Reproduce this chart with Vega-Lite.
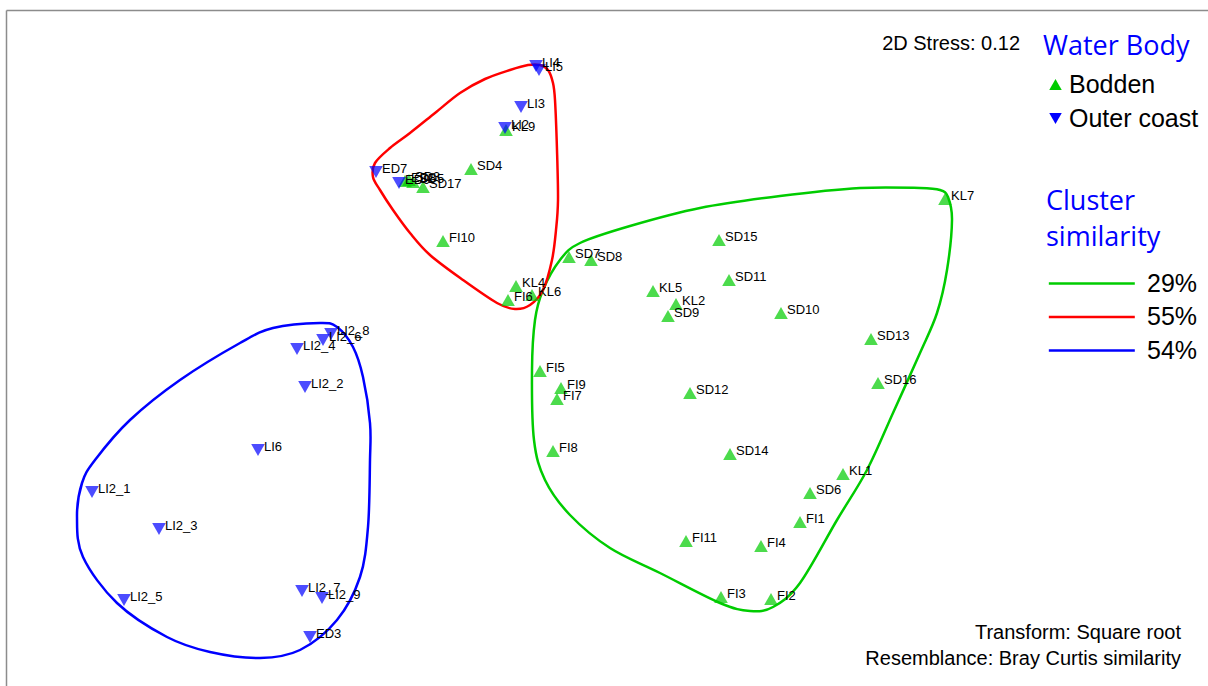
{
  "$schema": "https://vega.github.io/schema/vega-lite/v6.json",
  "width": 1202,
  "height": 676,
  "autosize": {"type": "none"},
  "padding": {"left": 6, "top": 10, "right": 0, "bottom": 0},
  "background": "white",
  "config": {"view": {"stroke": null}},
  "datasets": {
    "points": [
      {"label": "KL9", "water": "Bodden", "x": -0.376, "y": 0.88},
      {"label": "ED8", "water": "Bodden", "x": -0.78, "y": 0.676},
      {"label": "SD3", "water": "Bodden", "x": -0.764, "y": 0.68},
      {"label": "SD5", "water": "Bodden", "x": -0.748, "y": 0.672},
      {"label": "SD17", "water": "Bodden", "x": -0.708, "y": 0.652},
      {"label": "SD4", "water": "Bodden", "x": -0.516, "y": 0.724},
      {"label": "FI10", "water": "Bodden", "x": -0.628, "y": 0.436},
      {"label": "KL4", "water": "Bodden", "x": -0.336, "y": 0.256},
      {"label": "FI6", "water": "Bodden", "x": -0.368, "y": 0.2},
      {"label": "KL6", "water": "Bodden", "x": -0.272, "y": 0.22},
      {"label": "SD7", "water": "Bodden", "x": -0.124, "y": 0.372},
      {"label": "SD8", "water": "Bodden", "x": -0.036, "y": 0.36},
      {"label": "KL5", "water": "Bodden", "x": 0.212, "y": 0.236},
      {"label": "KL2", "water": "Bodden", "x": 0.304, "y": 0.184},
      {"label": "SD9", "water": "Bodden", "x": 0.272, "y": 0.136},
      {"label": "SD15", "water": "Bodden", "x": 0.476, "y": 0.44},
      {"label": "SD11", "water": "Bodden", "x": 0.516, "y": 0.28},
      {"label": "SD10", "water": "Bodden", "x": 0.724, "y": 0.148},
      {"label": "FI5", "water": "Bodden", "x": -0.24, "y": -0.084},
      {"label": "FI9", "water": "Bodden", "x": -0.156, "y": -0.152},
      {"label": "FI7", "water": "Bodden", "x": -0.172, "y": -0.196},
      {"label": "SD12", "water": "Bodden", "x": 0.36, "y": -0.172},
      {"label": "FI8", "water": "Bodden", "x": -0.188, "y": -0.404},
      {"label": "KL7", "water": "Bodden", "x": 1.38, "y": 0.604},
      {"label": "SD13", "water": "Bodden", "x": 1.084, "y": 0.044},
      {"label": "SD16", "water": "Bodden", "x": 1.112, "y": -0.132},
      {"label": "SD14", "water": "Bodden", "x": 0.52, "y": -0.416},
      {"label": "KL1", "water": "Bodden", "x": 0.972, "y": -0.496},
      {"label": "SD6", "water": "Bodden", "x": 0.84, "y": -0.572},
      {"label": "FI1", "water": "Bodden", "x": 0.8, "y": -0.688},
      {"label": "FI4", "water": "Bodden", "x": 0.644, "y": -0.784},
      {"label": "FI11", "water": "Bodden", "x": 0.344, "y": -0.764},
      {"label": "FI3", "water": "Bodden", "x": 0.484, "y": -0.988},
      {"label": "FI2", "water": "Bodden", "x": 0.684, "y": -0.996},
      {"label": "LI4", "water": "Outer coast", "x": -0.256, "y": 1.136},
      {"label": "LI5", "water": "Outer coast", "x": -0.244, "y": 1.12},
      {"label": "LI3", "water": "Outer coast", "x": -0.316, "y": 0.972},
      {"label": "LI2", "water": "Outer coast", "x": -0.38, "y": 0.888},
      {"label": "ED7", "water": "Outer coast", "x": -0.896, "y": 0.712},
      {"label": "ED9", "water": "Outer coast", "x": -0.804, "y": 0.668},
      {"label": "LI2_8", "water": "Outer coast", "x": -1.076, "y": 0.064},
      {"label": "LI2_6", "water": "Outer coast", "x": -1.108, "y": 0.04},
      {"label": "LI2_4", "water": "Outer coast", "x": -1.212, "y": 0.004},
      {"label": "LI2_2", "water": "Outer coast", "x": -1.18, "y": -0.148},
      {"label": "LI6", "water": "Outer coast", "x": -1.368, "y": -0.4},
      {"label": "LI2_1", "water": "Outer coast", "x": -2.032, "y": -0.568},
      {"label": "LI2_3", "water": "Outer coast", "x": -1.764, "y": -0.716},
      {"label": "LI2_5", "water": "Outer coast", "x": -1.904, "y": -1.0},
      {"label": "LI2_7", "water": "Outer coast", "x": -1.192, "y": -0.964},
      {"label": "LI2_9", "water": "Outer coast", "x": -1.112, "y": -0.992},
      {"label": "ED3", "water": "Outer coast", "x": -1.16, "y": -1.148}
    ],
    "hulls": [
      {"cluster": "29%", "i": 0, "x": -0.16, "y": 0.36},
      {"cluster": "29%", "i": 1, "x": -0.08, "y": 0.428},
      {"cluster": "29%", "i": 2, "x": 0.12, "y": 0.496},
      {"cluster": "29%", "i": 3, "x": 0.4, "y": 0.568},
      {"cluster": "29%", "i": 4, "x": 0.72, "y": 0.616},
      {"cluster": "29%", "i": 5, "x": 1.04, "y": 0.648},
      {"cluster": "29%", "i": 6, "x": 1.28, "y": 0.648},
      {"cluster": "29%", "i": 7, "x": 1.36, "y": 0.64},
      {"cluster": "29%", "i": 8, "x": 1.392, "y": 0.612},
      {"cluster": "29%", "i": 9, "x": 1.408, "y": 0.52},
      {"cluster": "29%", "i": 10, "x": 1.388, "y": 0.32},
      {"cluster": "29%", "i": 11, "x": 1.348, "y": 0.148},
      {"cluster": "29%", "i": 12, "x": 1.28, "y": -0.012},
      {"cluster": "29%", "i": 13, "x": 1.172, "y": -0.252},
      {"cluster": "29%", "i": 14, "x": 1.068, "y": -0.48},
      {"cluster": "29%", "i": 15, "x": 0.948, "y": -0.68},
      {"cluster": "29%", "i": 16, "x": 0.8, "y": -0.932},
      {"cluster": "29%", "i": 17, "x": 0.692, "y": -1.028},
      {"cluster": "29%", "i": 18, "x": 0.6, "y": -1.044},
      {"cluster": "29%", "i": 19, "x": 0.48, "y": -1.012},
      {"cluster": "29%", "i": 20, "x": 0.24, "y": -0.892},
      {"cluster": "29%", "i": 21, "x": 0.04, "y": -0.792},
      {"cluster": "29%", "i": 22, "x": -0.12, "y": -0.66},
      {"cluster": "29%", "i": 23, "x": -0.22, "y": -0.52},
      {"cluster": "29%", "i": 24, "x": -0.264, "y": -0.36},
      {"cluster": "29%", "i": 25, "x": -0.272, "y": -0.08},
      {"cluster": "29%", "i": 26, "x": -0.26, "y": 0.12},
      {"cluster": "29%", "i": 27, "x": -0.228, "y": 0.24},
      {"cluster": "55%", "i": 0, "x": -0.288, "y": 1.14},
      {"cluster": "55%", "i": 1, "x": -0.24, "y": 1.14},
      {"cluster": "55%", "i": 2, "x": -0.208, "y": 1.12},
      {"cluster": "55%", "i": 3, "x": -0.188, "y": 1.068},
      {"cluster": "55%", "i": 4, "x": -0.18, "y": 1.0},
      {"cluster": "55%", "i": 5, "x": -0.172, "y": 0.8},
      {"cluster": "55%", "i": 6, "x": -0.168, "y": 0.6},
      {"cluster": "55%", "i": 7, "x": -0.176, "y": 0.48},
      {"cluster": "55%", "i": 8, "x": -0.192, "y": 0.36},
      {"cluster": "55%", "i": 9, "x": -0.228, "y": 0.24},
      {"cluster": "55%", "i": 10, "x": -0.28, "y": 0.18},
      {"cluster": "55%", "i": 11, "x": -0.34, "y": 0.164},
      {"cluster": "55%", "i": 12, "x": -0.412, "y": 0.188},
      {"cluster": "55%", "i": 13, "x": -0.548, "y": 0.28},
      {"cluster": "55%", "i": 14, "x": -0.68, "y": 0.38},
      {"cluster": "55%", "i": 15, "x": -0.76, "y": 0.468},
      {"cluster": "55%", "i": 16, "x": -0.828, "y": 0.56},
      {"cluster": "55%", "i": 17, "x": -0.88, "y": 0.64},
      {"cluster": "55%", "i": 18, "x": -0.908, "y": 0.692},
      {"cluster": "55%", "i": 19, "x": -0.9, "y": 0.748},
      {"cluster": "55%", "i": 20, "x": -0.84, "y": 0.808},
      {"cluster": "55%", "i": 21, "x": -0.76, "y": 0.868},
      {"cluster": "55%", "i": 22, "x": -0.66, "y": 0.948},
      {"cluster": "55%", "i": 23, "x": -0.56, "y": 1.028},
      {"cluster": "55%", "i": 24, "x": -0.46, "y": 1.084},
      {"cluster": "55%", "i": 25, "x": -0.36, "y": 1.12},
      {"cluster": "54%", "i": 0, "x": -1.308, "y": 0.088},
      {"cluster": "54%", "i": 1, "x": -1.12, "y": 0.108},
      {"cluster": "54%", "i": 2, "x": -1.052, "y": 0.092},
      {"cluster": "54%", "i": 3, "x": -0.988, "y": 0.012},
      {"cluster": "54%", "i": 4, "x": -0.948, "y": -0.108},
      {"cluster": "54%", "i": 5, "x": -0.92, "y": -0.292},
      {"cluster": "54%", "i": 6, "x": -0.92, "y": -0.44},
      {"cluster": "54%", "i": 7, "x": -0.928, "y": -0.708},
      {"cluster": "54%", "i": 8, "x": -0.96, "y": -0.908},
      {"cluster": "54%", "i": 9, "x": -1.052, "y": -1.08},
      {"cluster": "54%", "i": 10, "x": -1.2, "y": -1.2},
      {"cluster": "54%", "i": 11, "x": -1.36, "y": -1.232},
      {"cluster": "54%", "i": 12, "x": -1.56, "y": -1.208},
      {"cluster": "54%", "i": 13, "x": -1.732, "y": -1.148},
      {"cluster": "54%", "i": 14, "x": -1.932, "y": -1.012},
      {"cluster": "54%", "i": 15, "x": -2.068, "y": -0.828},
      {"cluster": "54%", "i": 16, "x": -2.092, "y": -0.668},
      {"cluster": "54%", "i": 17, "x": -2.072, "y": -0.532},
      {"cluster": "54%", "i": 18, "x": -2.02, "y": -0.44},
      {"cluster": "54%", "i": 19, "x": -1.88, "y": -0.28},
      {"cluster": "54%", "i": 20, "x": -1.68, "y": -0.12},
      {"cluster": "54%", "i": 21, "x": -1.44, "y": 0.028}
    ],
    "notes": [
      {"text": "2D Stress: 0.12", "x": 1.68, "y": 1.224},
      {"text": "Transform: Square root", "x": 2.324, "y": -1.132},
      {"text": "Resemblance: Bray Curtis similarity", "x": 2.324, "y": -1.236}
    ]
  },
  "encoding": {
    "x": {
      "field": "x",
      "type": "quantitative",
      "scale": {"domain": [-2.376, 2.432], "nice": false, "zero": false},
      "axis": {"orient": "top", "labels": false, "ticks": false, "grid": false, "title": null, "domainColor": "#8c8c8c", "domainWidth": 1.5}
    },
    "y": {
      "field": "y",
      "type": "quantitative",
      "scale": {"domain": [-1.344, 1.36], "nice": false, "zero": false},
      "axis": {"orient": "left", "labels": false, "ticks": false, "grid": false, "title": null, "domainColor": "#8c8c8c", "domainWidth": 1.5}
    }
  },
  "layer": [
    {
      "data": {"name": "hulls"},
      "mark": {"type": "line", "interpolate": "cardinal-closed", "strokeWidth": 2.5},
      "encoding": {
        "stroke": {
          "field": "cluster",
          "type": "nominal",
          "scale": {"domain": ["29%", "55%", "54%"], "range": ["#00cc00", "#ff0000", "#0000ff"]},
          "legend": {
            "title": ["Cluster", "similarity"],
            "orient": "none",
            "legendX": 1040,
            "legendY": 179,
            "padding": 0,
            "titleFont": "Open Sans",
            "titleFontSize": 27,
            "titleFontWeight": "normal",
            "titleColor": "#0000ff",
            "titleLineHeight": 36,
            "titlePadding": 19,
            "labelFont": "Liberation Sans",
            "labelFontSize": 25,
            "labelColor": "#000000",
            "labelOffset": 76,
            "rowPadding": 7.5,
            "symbolType": "M-0.9,0L7.1,0",
            "symbolSize": 462,
            "symbolStrokeWidth": 2.5
          }
        },
        "order": {"field": "i", "type": "quantitative"}
      }
    },
    {
      "data": {"name": "points"},
      "mark": {"type": "point", "filled": true, "size": 185, "opacity": 0.7},
      "encoding": {
        "shape": {
          "field": "water",
          "type": "nominal",
          "scale": {"domain": ["Bodden", "Outer coast"], "range": ["triangle-up", "triangle-down"]},
          "legend": {
            "title": "Water Body",
            "orient": "none",
            "legendX": 1037,
            "legendY": 24,
            "padding": 0,
            "titleFont": "Open Sans",
            "titleFontSize": 27,
            "titleFontWeight": "normal",
            "titleColor": "#0000ff",
            "titlePadding": 11,
            "labelFont": "Liberation Sans",
            "labelFontSize": 25,
            "labelColor": "#000000",
            "labelOffset": 1,
            "rowPadding": 8,
            "symbolSize": 156,
            "symbolOpacity": 1
          }
        },
        "fill": {
          "field": "water",
          "type": "nominal",
          "scale": {"domain": ["Bodden", "Outer coast"], "range": ["#00cc00", "#0000ff"]},
          "legend": {
            "title": "Water Body",
            "orient": "none",
            "legendX": 1037,
            "legendY": 24,
            "padding": 0,
            "titleFont": "Open Sans",
            "titleFontSize": 27,
            "titleFontWeight": "normal",
            "titleColor": "#0000ff",
            "titlePadding": 11,
            "labelFont": "Liberation Sans",
            "labelFontSize": 25,
            "labelColor": "#000000",
            "labelOffset": 1,
            "rowPadding": 8,
            "symbolSize": 156,
            "symbolOpacity": 1
          }
        }
      }
    },
    {
      "data": {"name": "points"},
      "mark": {"type": "text", "align": "left", "baseline": "middle", "dx": 6, "dy": -3, "font": "Liberation Sans", "fontSize": 13, "color": "#000000"},
      "encoding": {"text": {"field": "label", "type": "nominal"}}
    },
    {
      "data": {"name": "notes"},
      "mark": {"type": "text", "align": "right", "baseline": "middle", "font": "Liberation Sans", "fontSize": 20, "color": "#000000"},
      "encoding": {"text": {"field": "text", "type": "nominal"}}
    }
  ]
}
